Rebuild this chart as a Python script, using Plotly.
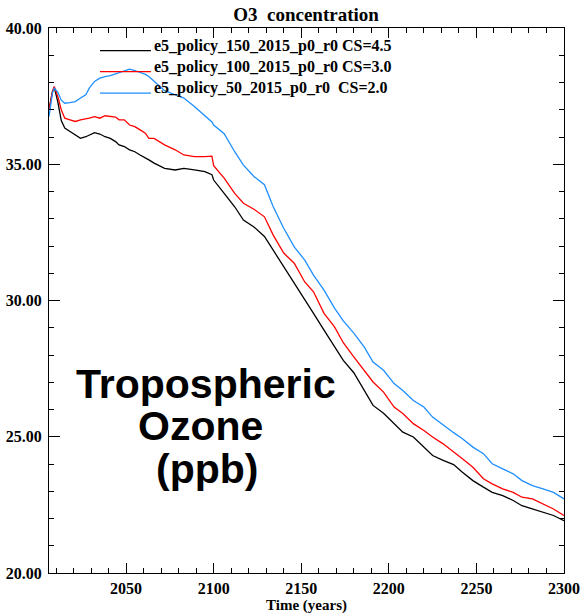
import plotly.graph_objects as go

# ---- data ----
years = [2006, 2008, 2009, 2011, 2013, 2015, 2018, 2021, 2024, 2027, 2029, 2032, 2035, 2038,
         2041, 2044, 2046, 2049, 2052, 2055, 2058, 2061, 2063, 2066, 2072, 2078, 2083, 2089,
         2095, 2099, 2100, 2106, 2112, 2117, 2123, 2129, 2134, 2140, 2146, 2152, 2157, 2163,
         2169, 2174, 2180, 2186, 2191, 2197, 2203, 2208, 2214, 2220, 2225, 2231, 2237, 2242,
         2248, 2254, 2259, 2265, 2271, 2276, 2282, 2288, 2294, 2300]

cs45_black = [37.00, 37.67, 37.82, 37.30, 36.60, 36.33, 36.20, 36.08, 35.95, 36.01, 36.08, 36.16,
              36.11, 36.01, 35.95, 35.83, 35.71, 35.65, 35.53, 35.46, 35.34, 35.25, 35.16, 35.04,
              34.85, 34.79, 34.85, 34.79, 34.73, 34.62, 34.42, 33.93, 33.44, 32.95, 32.70, 32.35,
              31.85, 31.24, 30.63, 30.08, 29.53, 28.91, 28.29, 27.80, 27.35, 26.70, 26.15, 25.86,
              25.48, 25.17, 24.99, 24.62, 24.31, 24.13, 23.98, 23.70, 23.39, 23.15, 22.96, 22.84,
              22.66, 22.47, 22.35, 22.23, 22.11, 21.92]

cs30_red = [37.00, 37.67, 37.85, 37.49, 37.00, 36.69, 36.63, 36.57, 36.63, 36.65, 36.69, 36.75,
            36.69, 36.78, 36.75, 36.73, 36.63, 36.63, 36.44, 36.38, 36.26, 36.14, 35.95, 35.95,
            35.71, 35.53, 35.34, 35.28, 35.28, 35.30, 34.95, 34.49, 33.93, 33.57, 33.35, 33.07,
            32.40, 31.74, 31.37, 30.68, 30.32, 29.53, 29.03, 28.45, 27.93, 27.44, 27.01, 26.64,
            26.09, 25.85, 25.48, 25.23, 24.99, 24.74, 24.45, 24.19, 23.88, 23.46, 23.27, 23.09,
            22.96, 22.78, 22.72, 22.54, 22.35, 22.11]

cs20_blue = [36.75, 37.62, 37.79, 37.65, 37.35, 37.24, 37.26, 37.30, 37.43, 37.55, 37.79, 38.04,
             38.16, 38.22, 38.25, 38.32, 38.37, 38.44, 38.49, 38.44, 38.37, 38.30, 38.22, 38.04,
             37.70, 37.55, 37.43, 37.12, 36.78, 36.55, 36.44, 36.12, 35.46, 34.97, 34.55, 34.25,
             33.44, 32.65, 31.97, 31.48, 30.93, 30.38, 29.72, 29.25, 28.80, 28.29, 27.74, 27.44,
             26.95, 26.70, 26.33, 26.09, 25.72, 25.42, 25.15, 24.93, 24.62, 24.38, 24.01, 23.82,
             23.64, 23.39, 23.21, 23.09, 22.96, 22.72]

series_names = ["e5_policy_150_2015_p0_r0 CS=4.5",
                "e5_policy_100_2015_p0_r0 CS=3.0",
                "e5_policy_50_2015_p0_r0\u00a0 CS=2.0"]
series_colors = ["#000000", "#FF0000", "#1E8FFF"]
series_values = [cs45_black, cs30_red, cs20_blue]

y_ticks = [20, 25, 30, 35, 40]
x_ticks = [2050, 2100, 2150, 2200, 2250, 2300]

SERIF = "Liberation Serif"
SANS = "Liberation Sans"

fig = go.Figure()
for name, col, vals in zip(series_names, series_colors, series_values):
    fig.add_trace(go.Scatter(x=years, y=vals, mode="lines", name=name,
                             line=dict(color=col, width=1.3), showlegend=False))

# legend drawn as short lines + labels inside the plot
leg_y = [39.17, 38.40, 37.61]
for name, col, ly in zip(series_names, series_colors, leg_y):
    fig.add_shape(type="line", xref="x", yref="y", x0=2035.1, x1=2064.2, y0=ly, y1=ly,
                  line=dict(color=col, width=1.3))
    fig.add_annotation(x=2064.8, y=ly + 0.17, xref="x", yref="y", text=name, showarrow=False,
                       xanchor="left", yanchor="middle",
                       font=dict(family=SERIF, size=16, color="black", weight="bold"))

# big label
for txt, ax, ay in [("Tropospheric", 2095.9, 26.94), ("Ozone", 2092.2, 25.38), ("(ppb)", 2096.2, 23.82)]:
    fig.add_annotation(x=ax, y=ay, xref="x", yref="y", text=txt, showarrow=False,
                       xanchor="center", yanchor="middle",
                       font=dict(family=SANS, size=41, color="black", weight="bold"))

axis_common = dict(showline=True, linecolor="black", linewidth=1, mirror="allticks",
                   ticks="inside", tickcolor="black", tickwidth=1, showgrid=False,
                   zeroline=False, automargin=False)

fig.update_xaxes(range=[2006, 2300], tickvals=x_ticks, ticklen=10,
                 minor=dict(ticks="inside", ticklen=5, dtick=10, tick0=2000, tickcolor="black",
                            tickwidth=1, showgrid=False),
                 tickfont=dict(family=SERIF, size=16, color="black", weight="bold"),
                 ticklabelstandoff=1,
                 title=dict(text="Time (years)", standoff=8,
                            font=dict(family=SERIF, size=15, color="black", weight="bold")),
                 **axis_common)
fig.update_yaxes(range=[20, 40], tickvals=y_ticks, tickformat=".2f", ticklen=11,
                 minor=dict(ticks="inside", ticklen=5, dtick=1, tick0=20, tickcolor="black",
                            tickwidth=1, showgrid=False),
                 tickfont=dict(family=SERIF, size=16, color="black", weight="bold"),
                 ticklabelstandoff=3,
                 **axis_common)

fig.update_layout(
    width=581, height=614,
    margin=dict(l=49, r=17, t=28, b=41),
    paper_bgcolor="white", plot_bgcolor="white",
    title=dict(text="O3\u00a0 concentration", x=306 / 581, xanchor="center",
               y=1 - 14 / 614, yanchor="middle",
               font=dict(family=SERIF, size=19, color="black", weight="bold")),
)

fig.write_html("out.html")
